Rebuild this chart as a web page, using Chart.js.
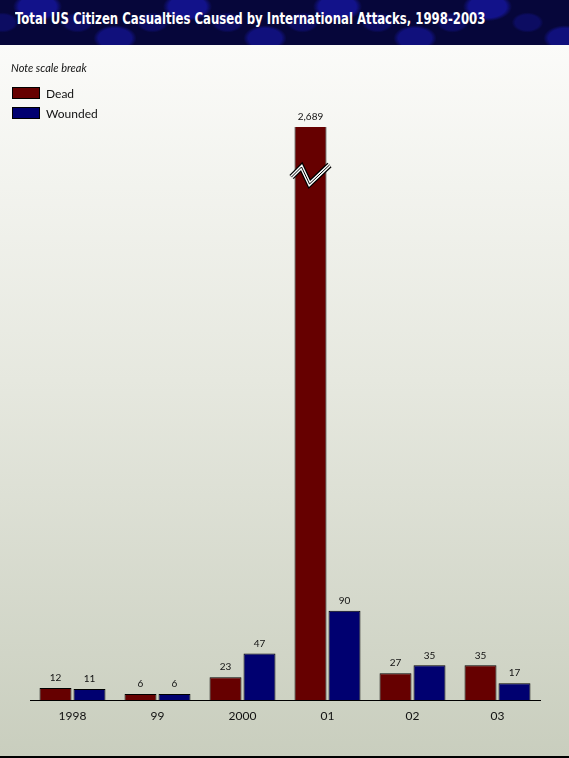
<!DOCTYPE html>
<html lang="en">
<head>
    <meta charset="UTF-8">
    <title>US Citizen Casualties</title>
    <script src="https://cdn.jsdelivr.net/npm/chart.js@4.4.1/dist/chart.umd.min.js"></script>
    <style>
        html, body { margin: 0; padding: 0; }
        body {
            width: 569px; height: 758px; overflow: hidden; position: relative;
            background: linear-gradient(to bottom, #fbfbf9 45px, #e6e8df 380px, #c9cebe 756px, #000 756px);
            font-family: Lato, "Noto Sans", sans-serif;
        }
        #banner {
            position: absolute; left: 0; top: 0; width: 569px; height: 45px; overflow: hidden;
            background-color: #06063a;
            background-image:
                radial-gradient(ellipse 34px 20px at 25% 15%, #12128a 55%, transparent 72%),
                radial-gradient(ellipse 30px 18px at 70% 85%, #10107c 55%, transparent 72%),
                radial-gradient(ellipse 22px 14px at 50% 50%, #0c0c62 55%, transparent 72%);
            background-size: 150px 45px, 150px 45px, 75px 45px;
            background-position: 0 0, 10px 0, 40px 0;
        }
        #title {
            position: absolute; left: 15px; top: 9px; white-space: nowrap;
            color: #fff; font-family: "DejaVu Sans Condensed", "DejaVu Sans", sans-serif;
            font-weight: bold; font-size: 16px; transform-origin: 0 0;
        }
        #note {
            position: absolute; left: 11px; top: 61px; font-size: 11px; font-style: italic; color: #111;
        }
        #legend { position: absolute; left: 12px; top: 83px; }
        .item { height: 20px; font-size: 12px; color: #111; display: flex; align-items: center; }
        .swatch { width: 28px; height: 12px; border: 1px solid #000; margin-right: 6px; box-sizing: border-box; }
        #chart { position: absolute; left: 0; top: 0; }
    </style>
</head>
<body>
    <div id="banner"><span id="title">Total US Citizen Casualties Caused by International Attacks, 1998-2003</span></div>
    <canvas id="chart" width="569" height="758"></canvas>
    <div id="note">Note scale break</div>
    <div id="legend"></div>

    <script>
        var years = ['1998', '99', '2000', '01', '02', '03'];
        var dead = [12, 6, 23, 2689, 27, 35];
        var wounded = [11, 6, 47, 90, 35, 17];
        var seriesNames = ['Dead', 'Wounded'];
        var seriesColors = ['#660000', '#000070'];

        // squeeze title into the banner width
        var title = document.getElementById('title');
        title.style.transform = 'scaleX(' + (470 / title.offsetWidth) + ')';

        var legend = document.getElementById('legend');
        seriesNames.forEach(function(name, i) {
            var row = document.createElement('div');
            row.className = 'item';
            row.innerHTML = '<span class="swatch" style="background:' + seriesColors[i] + '"></span>' + name;
            legend.appendChild(row);
        });

        var valueLabels = {
            id: 'valueLabels',
            afterDatasetsDraw: function(chart) {
                var ctx = chart.ctx;
                var area = chart.chartArea;
                ctx.save();
                ctx.font = '10px Lato, sans-serif';
                ctx.fillStyle = '#111';
                ctx.textAlign = 'center';
                ctx.textBaseline = 'bottom';
                chart.data.datasets.forEach(function(ds, di) {
                    chart.getDatasetMeta(di).data.forEach(function(bar, i) {
                        var top = Math.max(bar.y, area.top);
                        ctx.fillText(ds.data[i].toLocaleString('en-US'), bar.x, top - 5);
                        // scale break on the bar that runs off the chart
                        if (bar.y < area.top) {
                            var l = bar.x - bar.width / 2 - 3, r = bar.x + bar.width / 2 + 3;
                            var pts = [[l, area.top + 50], [l + 10, area.top + 40], [l + 18, area.top + 57], [r, area.top + 38]];
                            [[6, '#000'], [3.5, '#fff'], [1, '#000']].forEach(function(s) {
                                ctx.lineWidth = s[0];
                                ctx.strokeStyle = s[1];
                                ctx.lineJoin = 'miter';
                                ctx.beginPath();
                                pts.forEach(function(p, k) { k ? ctx.lineTo(p[0], p[1]) : ctx.moveTo(p[0], p[1]); });
                                ctx.stroke();
                            });
                        }
                    });
                });
                ctx.restore();
            }
        };

        new Chart(document.getElementById('chart'), {
            type: 'bar',
            data: {
                labels: years,
                datasets: [
                    {label: seriesNames[0], data: dead, backgroundColor: seriesColors[0], borderColor: '#000', borderWidth: 1, clip: 0},
                    {label: seriesNames[1], data: wounded, backgroundColor: seriesColors[1], borderColor: '#000', borderWidth: 1, clip: 0}
                ]
            },
            options: {
                responsive: false,
                animation: false,
                layout: {padding: {left: 30, right: 29, top: 127, bottom: 28}},
                datasets: {bar: {categoryPercentage: 0.8, barPercentage: 0.94}},
                plugins: {legend: {display: false}, tooltip: {enabled: false}},
                scales: {
                    x: {
                        grid: {display: false},
                        border: {display: true, color: '#000', width: 1},
                        ticks: {color: '#111', font: {family: 'Lato', size: 12}, padding: 1},
                        afterFit: function(scale) { scale.height = 30; }
                    },
                    y: {display: false, min: 0, max: 578}
                }
            },
            plugins: [valueLabels]
        });
    </script>
</body>
</html>
